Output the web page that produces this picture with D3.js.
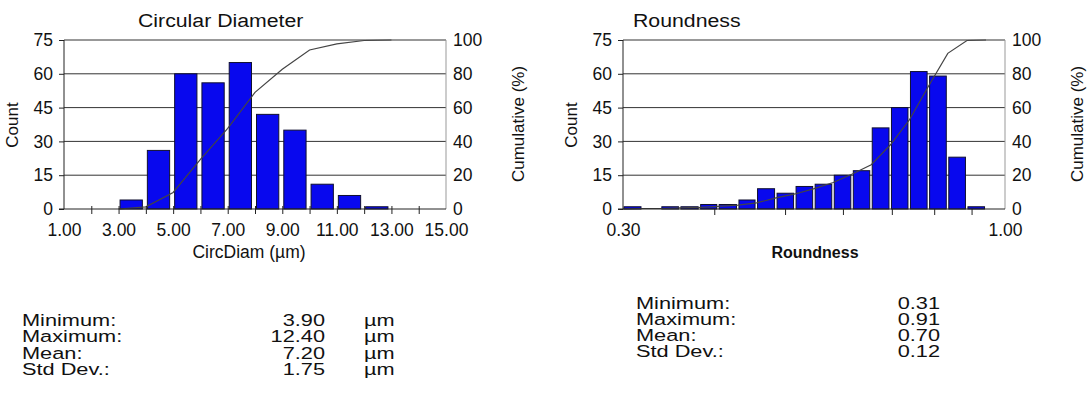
<!DOCTYPE html>
<html>
<head>
<meta charset="utf-8">
<script src="https://cdn.jsdelivr.net/npm/d3@7"></script>
<style>
  body { margin: 0; background: #fff; }
  svg { display: block; font-family: "Liberation Sans", Arial, sans-serif; }
</style>
</head>
<body>
<svg id="chart" width="1089" height="396"></svg>
<script>
// ---- Circular diameter (µm) ----
const diamEdges  = [3, 4, 5, 6, 7, 8, 9, 10, 11, 12, 13];
const diamCounts = [4, 26, 60, 56, 65, 42, 35, 11, 6, 1];
const diamCum    = [0, 1.3, 9.8, 29.4, 47.7, 69.0, 82.7, 94.1, 97.7, 99.7, 100];
const diamTicks  = [1, 2, 3, 4, 5, 6, 7, 8, 9, 10, 11, 12, 13, 14, 15];
const diamLabels = [1, 3, 5, 7, 9, 11, 13, 15];
const diamStats  = ["3.90", "12.40", "7.20", "1.75"];

// ---- Roundness (log x) ----
const roundEdges  = [0.300, 0.319, 0.338, 0.359, 0.382, 0.405, 0.431, 0.457, 0.486, 0.516,
                     0.548, 0.582, 0.618, 0.656, 0.697, 0.740, 0.786, 0.835, 0.887, 0.942, 1.000];
const roundCounts = [1, 0, 1, 1, 2, 2, 4, 9, 7, 10, 11, 15, 17, 36, 45, 61, 59, 23, 1, 0];
const roundCum    = [0, 0.3, 0.3, 0.7, 1.0, 1.6, 2.3, 3.6, 6.6, 8.9, 12.1, 15.7, 20.7, 26.2,
                     38.0, 52.8, 72.8, 92.1, 99.7, 100];
const roundTicks  = [0.3, 0.4, 0.5, 0.6, 0.7, 0.8, 0.9, 1.0];
const roundLabels = [0.3, 1.0];
const roundStats  = ["0.31", "0.91", "0.70", "0.12"];

const countTicks = [0, 15, 30, 45, 60, 75];
const cumTicks   = [0, 20, 40, 60, 80, 100];
const statNames  = ["Minimum:", "Maximum:", "Mean:", "Std Dev.:"];

const svg = d3.select("#chart");
const plotTop = 40, plotBottom = 209;

function drawPanel(o) {
  const g = svg.append("g");
  const x = o.x;
  const y = d3.scaleLinear().domain([0, 75]).range([plotBottom, plotTop]);
  const yc = d3.scaleLinear().domain([0, 100]).range([plotBottom, plotTop]);
  const [x0, x1] = x.range();

  // gridlines
  g.selectAll(".grid").data(countTicks.slice(1)).enter().append("line")
    .attr("x1", x0).attr("x2", x1)
    .attr("y1", d => y(d)).attr("y2", d => y(d))
    .attr("stroke", "#333").attr("stroke-width", 1);

  // bars
  g.selectAll(".bar").data(o.counts).enter().append("rect")
    .attr("x", (d, i) => x(o.edges[i]) + o.padL)
    .attr("width", (d, i) => x(o.edges[i + 1]) - x(o.edges[i]) - o.padL - o.padR)
    .attr("y", d => y(d))
    .attr("height", d => plotBottom - y(d))
    .attr("fill", "#0808ee")
    .attr("stroke", "#101030")
    .attr("stroke-width", 1)
    .attr("display", d => d > 0 ? null : "none");

  // cumulative curve
  const line = d3.line().x(d => x(d[0])).y(d => yc(d[1]));
  g.append("path")
    .datum(o.cumX.map((v, i) => [v, o.cum[i]]))
    .attr("d", line)
    .attr("fill", "none")
    .attr("stroke", "#444")
    .attr("stroke-width", 1.2);

  // frame
  g.append("line").attr("x1", x0).attr("x2", x0).attr("y1", plotTop).attr("y2", plotBottom).attr("stroke", "#222");
  g.append("line").attr("x1", x1).attr("x2", x1).attr("y1", plotTop).attr("y2", plotBottom).attr("stroke", "#999");
  g.append("line").attr("x1", x0 - 5).attr("x2", x1).attr("y1", plotBottom).attr("y2", plotBottom).attr("stroke", "#222");

  // left axis
  const la = g.append("g").attr("transform", `translate(${x0},0)`)
    .call(d3.axisLeft(y).tickValues(countTicks).tickSize(5).tickPadding(6));
  la.select(".domain").remove();
  la.selectAll("line").attr("stroke", "#222");
  la.selectAll("text").attr("font-size", "17.5px").attr("fill", "#111").attr("font-family", null);

  // right axis
  const ra = g.append("g").attr("transform", `translate(${x1},0)`)
    .call(d3.axisRight(yc).tickValues(cumTicks).tickSize(0).tickPadding(7));
  ra.select(".domain").remove();
  ra.selectAll("text").attr("font-size", "17.5px").attr("fill", "#111").attr("font-family", null);

  // bottom axis
  const ba = g.append("g").attr("transform", `translate(0,${plotBottom})`)
    .call(d3.axisBottom(x).tickValues(o.ticks).tickSize(0)
      .tickFormat(d => o.labels.includes(d) ? d3.format(".2f")(d) : ""));
  ba.select(".domain").remove();
  ba.selectAll("line").attr("y1", o.tickUp).attr("y2", o.tickDown).attr("stroke", "#222");
  ba.selectAll(".tick").filter(d => d === o.ticks[0] || d === o.ticks[o.ticks.length - 1])
    .select("line").remove();
  ba.selectAll("text").attr("y", 15).attr("font-size", "17.5px").attr("fill", "#111").attr("font-family", null);

  // titles
  g.append("text").attr("transform", `translate(${o.titleX},27) scale(1.12,1)`)
    .attr("font-size", "19px").attr("fill", "#111").text(o.title);
  g.append("text").attr("x", o.xLabelX).attr("y", 258).attr("text-anchor", "middle")
    .attr("font-size", o.xLabelSize).attr("font-weight", o.xLabelWeight)
    .attr("fill", "#111").text(o.xLabel);
  g.append("text").attr("transform", `translate(${x0 - 46},125) rotate(-90)`)
    .attr("text-anchor", "middle").attr("font-size", "17px").attr("fill", "#111").text("Count");
  g.append("text").attr("transform", `translate(${x1 + 78},124) rotate(-90)`)
    .attr("text-anchor", "middle").attr("font-size", "17px").attr("fill", "#111").text("Cumulative (%)");

  // stats block
  const s = g.append("g").attr("font-size", "14.5px").attr("fill", "#111");
  statNames.forEach((name, i) => {
    const yy = o.statY + i * 16.3;
    s.append("text").attr("transform", `translate(${o.statLabelX},${yy}) scale(1.5,1.1)`).text(name);
    s.append("text").attr("transform", `translate(${o.statValX},${yy}) scale(1.5,1.1)`)
      .attr("text-anchor", "end").text(o.stats[i]);
    if (o.unit) s.append("text").attr("transform", `translate(${o.unitX},${yy}) scale(1.5,1.1)`).text(o.unit);
  });
}

drawPanel({
  x: d3.scaleLinear().domain([1, 15]).range([64, 446]),
  edges: diamEdges, counts: diamCounts,
  cumX: diamEdges, cum: diamCum,
  ticks: diamTicks, labels: diamLabels,
  padL: 1.5, padR: 3.5, tickUp: -3, tickDown: 5,
  title: "Circular Diameter", titleX: 138,
  xLabel: "CircDiam (µm)", xLabelX: 249, xLabelSize: "17.5px", xLabelWeight: "normal",
  stats: diamStats, unit: "µm", statY: 326, statLabelX: 22, statValX: 325, unitX: 364
});

drawPanel({
  x: d3.scaleLog().domain([0.3, 1]).range([623, 1005]),
  edges: roundEdges, counts: roundCounts,
  cumX: roundEdges.slice(0, roundCum.length), cum: roundCum,
  ticks: roundTicks, labels: roundLabels,
  padL: 1, padR: 1.5, tickUp: 0, tickDown: 6,
  title: "Roundness", titleX: 633,
  xLabel: "Roundness", xLabelX: 815, xLabelSize: "16px", xLabelWeight: "bold",
  stats: roundStats, unit: null, statY: 308.5, statLabelX: 636, statValX: 940, unitX: 0
});
</script>
</body>
</html>
